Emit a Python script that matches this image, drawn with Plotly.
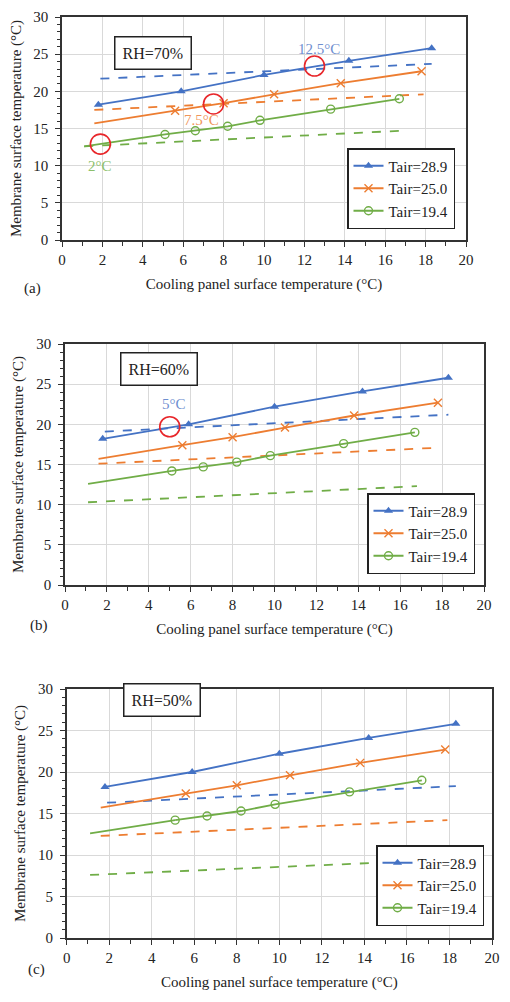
import plotly.graph_objects as go

# the page body adds an 8px margin on every side; size the figure so the page does not scroll
OFF = 8
W, H = 510 - OFF, 1002 - 2 * OFF
FONT = "Liberation Serif, Times New Roman, serif"
BLUE, ORANGE, GREEN = "#4472C4", "#ED7D31", "#70AD47"

# measured series (same in all panels)
tair_labels = ["Tair=28.9", "Tair=25.0", "Tair=19.4"]
blue_x = [1.8, 5.9, 10.0, 14.2, 18.3]
blue_y = [18.2, 20.0, 22.2, 24.1, 25.8]
orange_x = [5.6, 8.0, 10.5, 13.8, 17.8]
orange_y = [17.4, 18.4, 19.6, 21.1, 22.7]
orange_ext = ([1.6, 5.6], [15.7, 17.4])
green_x = [5.1, 6.6, 8.2, 9.8, 13.3, 16.7]
green_y = [14.2, 14.7, 15.3, 16.1, 17.6, 19.0]
green_ext = ([1.1, 5.1], [12.6, 14.2])

# dew-point (dashed) lines per panel
dash_x = {"blue": [1.9, 18.3], "orange": [1.6, 17.9], "green": [1.1, 16.8]}
dash_a = {"blue": [21.7, 23.7], "orange": [17.5, 19.6], "green": [12.6, 14.7]}
dash_b = {"blue": [19.1, 21.2], "orange": [15.1, 17.1], "green": [10.3, 12.3]}
dash_c = {"blue": [16.3, 18.3], "orange": [12.3, 14.2], "green": [7.6, 9.3]}

rh_labels = ["RH=70%", "RH=60%", "RH=50%"]
panel_tags = ["(a)", "(b)", "(c)"]

# condensation points
cond_a_x = [12.5, 7.5, 1.9]
cond_a_y = [23.4, 18.3, 12.9]
cond_a_txt = ["12.5°C", "7.5°C", "2°C"]
cond_a_txt_xy = [(12.7, 25.7), (6.9, 16.1), (1.9, 9.9)]
cond_b_x = [5.0]
cond_b_y = [19.7]
cond_b_txt = ["5°C"]
cond_b_txt_xy = [(5.2, 22.5)]

# panel pixel boxes (window pixels): x0, x1, ytop, ybottom
boxes = [(62, 466, 17, 240), (65, 484, 344, 585), (66.7, 492, 689, 938)]
legend_pos = [(455, 229), (475, 574), (484, 926)]
rh_pos = [(114, 36), (120, 369), (123, 717)]
tag_pos = [(22, 278), (28, 625), (26, 980)]

def px(x):
    return (x - OFF) / W

def py(y):
    return 1 - (y - OFF) / H

fig = go.Figure()
dashes = [dash_a, dash_b, dash_c]
colors = {"blue": BLUE, "orange": ORANGE, "green": GREEN}

for i in range(3):
    sfx = "" if i == 0 else str(i + 1)
    xa, ya = "x" + sfx, "y" + sfx
    lg = "legend" + sfx
    for k in ["blue", "orange", "green"]:
        fig.add_trace(go.Scatter(x=dash_x[k], y=dashes[i][k], mode="lines",
                                 line=dict(color=colors[k], width=1.8, dash="dash"),
                                 showlegend=False, xaxis=xa, yaxis=ya))
    fig.add_trace(go.Scatter(x=orange_ext[0], y=orange_ext[1], mode="lines",
                             line=dict(color=ORANGE, width=1.8), showlegend=False, xaxis=xa, yaxis=ya))
    fig.add_trace(go.Scatter(x=green_ext[0], y=green_ext[1], mode="lines",
                             line=dict(color=GREEN, width=1.8), showlegend=False, xaxis=xa, yaxis=ya))
    fig.add_trace(go.Scatter(x=blue_x, y=blue_y, mode="lines+markers", name=tair_labels[0],
                             line=dict(color=BLUE, width=1.8),
                             marker=dict(symbol="triangle-up", size=8, color=BLUE),
                             legend=lg, xaxis=xa, yaxis=ya))
    fig.add_trace(go.Scatter(x=orange_x, y=orange_y, mode="lines+markers", name=tair_labels[1],
                             line=dict(color=ORANGE, width=1.8),
                             marker=dict(symbol="x-thin-open", size=8, color=ORANGE, line=dict(color=ORANGE, width=1.4)),
                             legend=lg, xaxis=xa, yaxis=ya))
    fig.add_trace(go.Scatter(x=green_x, y=green_y, mode="lines+markers", name=tair_labels[2],
                             line=dict(color=GREEN, width=1.8),
                             marker=dict(symbol="circle-open", size=8, color=GREEN, line=dict(color=GREEN, width=1.4)),
                             legend=lg, xaxis=xa, yaxis=ya))

fig.add_trace(go.Scatter(x=cond_a_x, y=cond_a_y, mode="markers",
                         marker=dict(symbol="circle-open", size=20, color="#E8262A", line=dict(color="#E8262A", width=1.6)),
                         showlegend=False, xaxis="x", yaxis="y"))
fig.add_trace(go.Scatter(x=cond_b_x, y=cond_b_y, mode="markers",
                         marker=dict(symbol="circle-open", size=20, color="#E8262A", line=dict(color="#E8262A", width=1.6)),
                         showlegend=False, xaxis="x2", yaxis="y2"))

annotations = []
txt_cols = ["#6F8FD0", "#F0955A", "#8CBF6A"]
for (t, (ax, ay), c) in zip(cond_a_txt, cond_a_txt_xy, txt_cols):
    annotations.append(dict(x=ax, y=ay, xref="x", yref="y", text=t, showarrow=False,
                            font=dict(family=FONT, size=15, color=c)))
for (t, (ax, ay)) in zip(cond_b_txt, cond_b_txt_xy):
    annotations.append(dict(x=ax, y=ay, xref="x2", yref="y2", text=t, showarrow=False,
                            font=dict(family=FONT, size=15, color="#6F8FD0")))

layout = dict(width=W, height=H, margin=dict(l=0, r=0, t=0, b=0, autoexpand=False),
              paper_bgcolor="white", plot_bgcolor="white",
              font=dict(family=FONT, size=14, color="#222"))

for i, (x0, x1, yt, yb) in enumerate(boxes):
    sfx = "" if i == 0 else str(i + 1)
    layout["xaxis" + sfx] = dict(domain=[px(x0), min(px(x1), 1.0)], range=[0, 20], dtick=2,
                                 anchor="y" + sfx, showgrid=True, gridcolor="#D9D9D9", gridwidth=1,
                                 showline=True, mirror=True, linecolor="#333", linewidth=1.5,
                                 ticks="outside", ticklen=5, tickcolor="#333", zeroline=False,
                                 automargin=False, ticklabeloverflow="allow",
                                 minor=dict(dtick=1, ticks="outside", ticklen=4, tickcolor="#333", showgrid=False),
                                 tickfont=dict(family=FONT, size=15, color="#222"),
                                 title=dict(text="Cooling panel surface temperature (°C)",
                                            font=dict(family=FONT, size=15, color="#222"), standoff=12))
    layout["yaxis" + sfx] = dict(domain=[max(py(yb), 0.0), min(py(yt), 1.0)], range=[0, 30], dtick=5,
                                 anchor="x" + sfx, showgrid=True, gridcolor="#D9D9D9", gridwidth=1,
                                 showline=True, mirror=True, linecolor="#333", linewidth=1.5,
                                 ticks="outside", ticklen=5, tickcolor="#333", zeroline=False,
                                 automargin=False, ticklabelstandoff=4, ticklabeloverflow="allow",
                                 minor=dict(dtick=1, ticks="outside", ticklen=3, tickcolor="#333", showgrid=False),
                                 tickfont=dict(family=FONT, size=15, color="#222"),
                                 title=dict(text="Membrane surface temperature (°C)",
                                            font=dict(family=FONT, size=15, color="#222"), standoff=9))
    lx, lyb = legend_pos[i]
    layout["legend" + sfx] = dict(x=px(lx), y=py(lyb), xanchor="right", yanchor="bottom",
                                  xref="paper", yref="paper",
                                  bgcolor="white", bordercolor="#222", borderwidth=1.5,
                                  font=dict(family=FONT, size=15, color="#222"),
                                  tracegroupgap=0, itemwidth=30)
    rx, ry = rh_pos[i]
    annotations.append(dict(x=px(rx), y=py(ry), xref="paper", yref="paper", text=rh_labels[i],
                            showarrow=False, bordercolor="#222", borderwidth=1.5, borderpad=7,
                            bgcolor="white", font=dict(family=FONT, size=16, color="#222")))
    tx, ty = tag_pos[i]
    annotations.append(dict(x=px(tx), y=py(ty), xref="paper", yref="paper", text=panel_tags[i],
                            showarrow=False, font=dict(family=FONT, size=15, color="#222")))

layout["annotations"] = annotations
fig.update_layout(**layout)
fig.write_html("out.html")
